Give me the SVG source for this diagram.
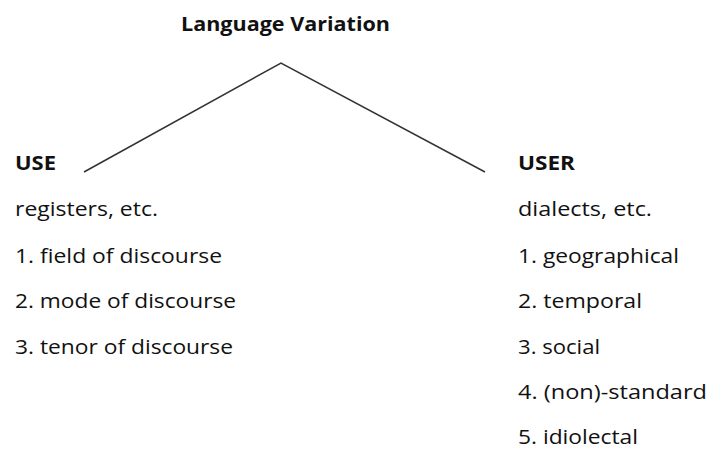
<svg xmlns="http://www.w3.org/2000/svg" width="709" height="450" viewBox="0 0 709 450">
<style>
text{font-family:"Open Sans","Noto Sans","Liberation Sans",sans-serif;font-size:20px;fill:#111}
.b{font-weight:bold}
.conn{stroke:#333;stroke-width:1.5;fill:none}
</style>
<rect width="709" height="450" fill="#fff"/>
<g id="title"><text class="b" x="181" y="31" textLength="209" lengthAdjust="spacingAndGlyphs">Language Variation</text></g>
<g id="connectors">
<polyline class="conn" points="84,172 281,63 485,172"/>
</g>
<g id="use">
<text class="b" x="15" y="170" textLength="41" lengthAdjust="spacingAndGlyphs">USE</text>
<text x="15" y="216" textLength="143" lengthAdjust="spacingAndGlyphs">registers, etc.</text>
<text x="15" y="263" textLength="207" lengthAdjust="spacingAndGlyphs">1. field of discourse</text>
<text x="15" y="308" textLength="221" lengthAdjust="spacingAndGlyphs">2. mode of discourse</text>
<text x="15" y="354" textLength="218" lengthAdjust="spacingAndGlyphs">3. tenor of discourse</text>
</g>
<g id="user">
<text class="b" x="518" y="170" textLength="57" lengthAdjust="spacingAndGlyphs">USER</text>
<text x="518" y="216" textLength="134" lengthAdjust="spacingAndGlyphs">dialects, etc.</text>
<text x="518" y="263" textLength="161" lengthAdjust="spacingAndGlyphs">1. geographical</text>
<text x="518" y="308" textLength="124" lengthAdjust="spacingAndGlyphs">2. temporal</text>
<text x="518" y="354" textLength="82" lengthAdjust="spacingAndGlyphs">3. social</text>
<text x="518" y="399" textLength="189" lengthAdjust="spacingAndGlyphs">4. (non)-standard</text>
<text x="518" y="444" textLength="120" lengthAdjust="spacingAndGlyphs">5. idiolectal</text>
</g>
</svg>
